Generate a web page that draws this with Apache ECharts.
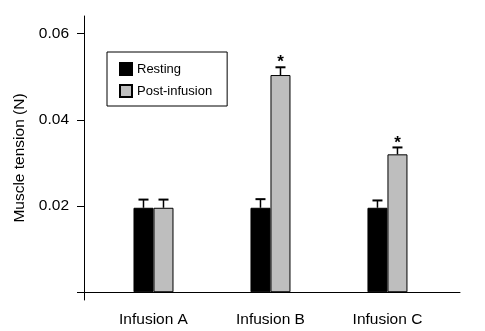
<!DOCTYPE html>
<html>
<head>
<meta charset="utf-8">
<script src="https://cdn.jsdelivr.net/npm/echarts@6/dist/echarts.min.js"></script>
<style>html,body{margin:0;padding:0;background:#fff}#c{width:485px;height:331px}</style>
</head>
<body>
<div id="c"></div>
<script>
const categories = ['Infusion A', 'Infusion B', 'Infusion C'];
const categoryPos = [1, 2, 3];
const seriesNames = ['Resting', 'Post-infusion'];
const restingValues = [0.0196, 0.0196, 0.0196];
const restingErrors = [0.0019, 0.0020, 0.0017];
const postValues = [0.0196, 0.0504, 0.0320];
const postErrors = [0.0019, 0.0018, 0.0016];
const postSignificant = [false, true, true];
const yTickValues = [0, 0.02, 0.04, 0.06];
const yLabelValues = [0.02, 0.04, 0.06];

const FONT = '"Liberation Sans", Arial, Helvetica, sans-serif';
const BAR_W = 20;

const chart = echarts.init(document.getElementById('c'), null, {renderer: 'canvas'});

const errData = [];
categoryPos.forEach((x, i) => {
  errData.push([x, restingValues[i], restingErrors[i], -1, 0]);
  errData.push([x, postValues[i], postErrors[i], 1, postSignificant[i] ? 1 : 0]);
});

chart.setOption({
  animation: false,
  textStyle: {fontFamily: FONT},
  grid: {left: 84, right: 25, top: 16, bottom: 31, containLabel: false},
  legend: {
    orient: 'vertical',
    left: 107, top: 52,
    padding: [10, 15, 8, 12],
    itemWidth: 12, itemHeight: 12, itemGap: 8,
    borderColor: '#000', borderWidth: 1,
    icon: 'rect',
    textStyle: {fontFamily: FONT, fontSize: 13, color: '#000', padding: [0, 0, 0, 0], lineHeight: 12},
    data: seriesNames
  },
  xAxis: {
    type: 'value',
    min: 0.406, max: 3.62,
    axisLine: {onZero: true, lineStyle: {color: '#000', width: 1}},
    axisTick: {show: false},
    splitLine: {show: false},
    axisLabel: {
      customValues: categoryPos,
      formatter: v => categories[categoryPos.indexOf(Math.round(v))] || '',
      fontFamily: FONT, fontSize: 15.5, color: '#000', margin: 12
    }
  },
  yAxis: {
    type: 'value',
    min: -0.0018, max: 0.0641,
    name: 'Muscle tension (N)',
    nameLocation: 'middle',
    nameGap: 50,
    nameTextStyle: {fontFamily: FONT, fontSize: 15.5, color: '#000'},
    axisLine: {show: true, onZero: false, lineStyle: {color: '#000', width: 1}},
    axisTick: {show: true, length: 7, customValues: yTickValues, lineStyle: {color: '#000'}},
    splitLine: {show: false},
    axisLabel: {
      customValues: yLabelValues,
      formatter: v => v.toFixed(2),
      fontFamily: FONT, fontSize: 15.5, color: '#000', margin: 15
    }
  },
  series: [
    {
      name: seriesNames[0], type: 'bar', barWidth: BAR_W, barGap: '0%',
      itemStyle: {color: '#000', borderColor: '#000', borderWidth: 1},
      data: categoryPos.map((x, i) => [x, restingValues[i]])
    },
    {
      name: seriesNames[1], type: 'bar', barWidth: BAR_W, barGap: '0%',
      itemStyle: {color: '#bebebe', borderColor: '#000', borderWidth: 1},
      data: categoryPos.map((x, i) => [x, postValues[i]])
    },
    {
      type: 'custom', silent: true, z: 5,
      data: errData,
      renderItem: function (params, api) {
        const x = api.value(0), v = api.value(1), e = api.value(2), side = api.value(3), sig = api.value(4);
        const base = api.coord([x, v]);
        const top = api.coord([x, v + e]);
        const cx = base[0] + side * BAR_W / 2;
        const children = [
          {type: 'line', shape: {x1: cx, y1: base[1], x2: cx, y2: top[1]}, style: {stroke: '#000', lineWidth: 1.5}},
          {type: 'line', shape: {x1: cx - 5, y1: top[1], x2: cx + 5, y2: top[1]}, style: {stroke: '#000', lineWidth: 2}}
        ];
        if (sig) {
          children.push({type: 'text', style: {text: '*', x: cx, y: top[1] + 4, align: 'center', verticalAlign: 'bottom', font: 'bold 17px ' + FONT, fill: '#000'}});
        }
        return {type: 'group', children: children};
      }
    }
  ]
});
</script>
</body>
</html>
